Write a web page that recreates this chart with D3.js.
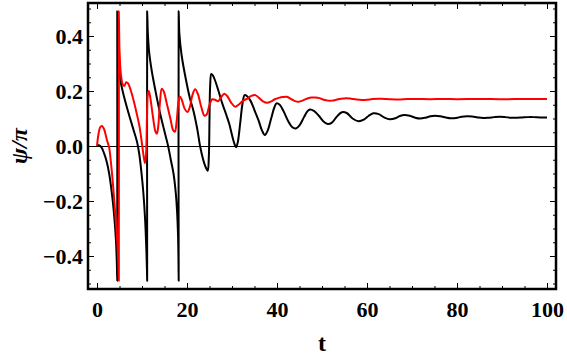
<!DOCTYPE html>
<html>
<head>
<meta charset="utf-8">
<script src="https://cdn.jsdelivr.net/npm/d3@7"></script>
<style>
  html, body { margin: 0; padding: 0; background: #fff; }
  svg { display: block; }
  .tick text { font-family: "Liberation Serif", "Times New Roman", serif; font-weight: bold; font-size: 22px; fill: #000; }
</style>
</head>
<body>
<svg id="chart" width="567" height="358"></svg>
<script>
// ---- data ----
const blackT = [0,0.5,1.0,1.6,2.2,2.7,3.1,3.5,3.9,4.2,4.4,4.5,
  4.5,4.6,4.8,5.3,6.0,7.0,8.0,8.9,9.4,9.9,10.3,10.7,10.95,11.1,11.15,
  11.15,11.3,11.6,12.2,13.0,14.0,15.1,15.8,16.4,17.0,17.5,17.8,18.0,18.1,18.15,
  18.15,18.3,18.8,19.9,20.7,21.4,22.3,22.9,23.6,24.1,24.6,24.85,25.0,25.15,25.4,25.7,26.2,27.0,27.8,28.8,29.4,30.0,30.5,30.9,31.3,31.8,32.3,32.8,33.3,34.1,35.0,35.9,36.7,37.3,37.9,38.7,39.4,39.9,40.6,41.5,42.5,43.4,44.2,45.0,46.0,46.7,47.3,48.2,49.3,50.4,51.3,52.2,53.3,54.4,55.5,56.8,58.1,59.4,60.4,61.4,62.6,63.9,65.1,66.3,67.3,68.3,69.5,70.7,71.8,73.0,74.1,75.1,76.3,77.5,78.6,79.8,81.0,82.2,83.4,84.6,85.8,87.0,88.3,89.5,90.7,92.0,93.3,94.5,95.8,97.0,98.5,100];
const blackV = [0.005,0.002,-0.005,-0.028,-0.06,-0.1,-0.145,-0.2,-0.27,-0.34,-0.42,-0.49,
  0.49,0.37,0.29,0.23,0.18,0.12,0.065,0.015,-0.03,-0.1,-0.17,-0.27,-0.37,-0.45,-0.49,
  0.49,0.41,0.34,0.27,0.2,0.12,0.046,0.0,-0.05,-0.1,-0.17,-0.24,-0.32,-0.41,-0.49,
  0.49,0.41,0.33,0.23,0.17,0.13,0.06,0.0,-0.05,-0.075,-0.09,-0.04,0.1,0.22,0.262,0.258,0.24,0.2,0.157,0.11,0.08,0.04,0.01,-0.005,0.015,0.08,0.15,0.185,0.182,0.165,0.13,0.093,0.055,0.04,0.055,0.1,0.14,0.155,0.15,0.125,0.09,0.068,0.064,0.075,0.105,0.125,0.133,0.128,0.11,0.088,0.08,0.085,0.107,0.123,0.12,0.1,0.09,0.097,0.11,0.119,0.116,0.103,0.097,0.101,0.109,0.113,0.11,0.103,0.1,0.103,0.108,0.11,0.108,0.104,0.101,0.102,0.106,0.108,0.107,0.104,0.102,0.103,0.105,0.106,0.105,0.103,0.103,0.104,0.105,0.105,0.104,0.104];

const redT = [0,0.3,0.7,1.1,1.6,2.2,2.7,3.0,3.5,4.0,4.4,4.7,4.85,
  4.85,5.0,5.3,5.7,6.05,6.5,6.9,7.9,8.8,9.4,9.9,10.3,10.65,10.9,11.1,11.3,11.5,11.8,12.4,13.0,13.3,13.6,14.0,14.4,14.8,15.5,16.3,16.9,17.3,17.7,18.1,18.4,18.8,19.5,20.1,20.6,21.2,21.8,22.4,23.2,23.9,24.4,25.0,25.6,26.2,26.9,27.6,28.3,29.0,29.8,30.7,31.6,32.5,33.4,34.3,35.2,36.0,36.9,37.8,38.7,39.5,40.4,41.3,42.2,43.2,44.0,44.8,45.7,46.6,47.6,48.5,49.4,50.4,51.3,52.2,53.2,54.2,55.4,56.5,57.6,58.8,60.0,61.2,62.5,63.8,65,67,69,71,74,77,80,85,90,95,100];
const redV = [0,0.04,0.068,0.073,0.06,0.022,-0.005,-0.045,-0.13,-0.235,-0.32,-0.41,-0.49,
  0.49,0.35,0.262,0.225,0.218,0.232,0.228,0.18,0.12,0.075,0.02,-0.03,-0.063,-0.03,0.1,0.19,0.2,0.18,0.11,0.052,0.045,0.07,0.16,0.208,0.2,0.155,0.1,0.058,0.052,0.09,0.16,0.18,0.17,0.135,0.124,0.14,0.185,0.206,0.19,0.14,0.11,0.115,0.15,0.17,0.168,0.163,0.178,0.19,0.18,0.158,0.143,0.152,0.165,0.172,0.182,0.185,0.175,0.162,0.157,0.162,0.17,0.175,0.178,0.179,0.17,0.163,0.161,0.165,0.172,0.176,0.176,0.174,0.168,0.165,0.165,0.168,0.172,0.174,0.172,0.169,0.167,0.168,0.171,0.172,0.171,0.170,0.169,0.171,0.171,0.170,0.171,0.170,0.171,0.170,0.171,0.171];

const xMajorTicks = [0,20,40,60,80,100];
const xMinorTicks = [0,5,10,15,20,25,30,35,40,45,50,55,60,65,70,75,80,85,90,95,100];
const yMajorTicks = [-0.4,-0.2,0.0,0.2,0.4];
const yMinorTicks = [-0.5,-0.45,-0.4,-0.35,-0.3,-0.25,-0.2,-0.15,-0.1,-0.05,0,0.05,0.1,0.15,0.2,0.25,0.3,0.35,0.4,0.45,0.5];
const xTitle = "t";
const yTitle = "ψ/π";

// ---- layout ----
const svg = d3.select("#chart");
const L = 88, R = 556, T = 3, B = 289;
const x = d3.scaleLinear().domain([-2, 102]).range([L, R]);
const y = d3.scaleLinear().domain([-0.52, 0.52]).range([B, T]);

svg.append("defs").append("clipPath").attr("id", "clip")
  .append("rect").attr("x", L).attr("y", T).attr("width", R - L).attr("height", B - T);

// zero line (crisp)
svg.append("line")
  .attr("x1", L).attr("x2", R).attr("y1", y(0) + 0.5).attr("y2", y(0) + 0.5)
  .attr("stroke", "#000").attr("stroke-width", 1);

const line = d3.line().x(d => x(d[0])).y(d => y(d[1])).curve(d3.curveCatmullRom.alpha(0.5));
const blackData = blackT.map((t, i) => [t, blackV[i]]);
const redData = redT.map((t, i) => [t, redV[i]]);

const g = svg.append("g").attr("clip-path", "url(#clip)");
g.append("path").datum(blackData).attr("d", line)
  .attr("fill", "none").attr("stroke", "#000").attr("stroke-width", 2).attr("stroke-linejoin", "round");
g.append("path").datum(redData).attr("d", line)
  .attr("fill", "none").attr("stroke", "#ff0000").attr("stroke-width", 2).attr("stroke-linejoin", "round");

// axes (inward ticks)
const fmtY = d3.format(".1f");
function styleAxis(sel) { sel.select(".domain").remove(); sel.selectAll(".tick line").attr("stroke", "#000").attr("stroke-width", 1); }

svg.append("g").attr("transform", `translate(0,${B})`)
  .call(d3.axisBottom(x).tickValues(xMinorTicks).tickSize(-3).tickFormat("")).call(styleAxis);
svg.append("g").attr("transform", `translate(0,${B})`)
  .call(d3.axisBottom(x).tickValues(xMajorTicks).tickSize(-6).tickPadding(12).tickFormat(d3.format("d"))).call(styleAxis);
svg.append("g").attr("transform", `translate(0,${T})`)
  .call(d3.axisTop(x).tickValues(xMinorTicks).tickSize(-3).tickFormat("")).call(styleAxis);
svg.append("g").attr("transform", `translate(0,${T})`)
  .call(d3.axisTop(x).tickValues(xMajorTicks).tickSize(-6).tickFormat("")).call(styleAxis);

svg.append("g").attr("transform", `translate(${L},0)`)
  .call(d3.axisLeft(y).tickValues(yMinorTicks).tickSize(-3).tickFormat("")).call(styleAxis);
svg.append("g").attr("transform", `translate(${L},0)`)
  .call(d3.axisLeft(y).tickValues(yMajorTicks).tickSize(-6).tickPadding(5).tickFormat(fmtY)).call(styleAxis);
svg.append("g").attr("transform", `translate(${R},0)`)
  .call(d3.axisRight(y).tickValues(yMinorTicks).tickSize(-3).tickFormat("")).call(styleAxis);
svg.append("g").attr("transform", `translate(${R},0)`)
  .call(d3.axisRight(y).tickValues(yMajorTicks).tickSize(-6).tickFormat("")).call(styleAxis);

// frame
svg.append("rect").attr("x", L).attr("y", T).attr("width", R - L).attr("height", B - T)
  .attr("fill", "none").attr("stroke", "#000").attr("stroke-width", 2.5);

// titles
svg.append("text").attr("x", x(50)).attr("y", 351).attr("text-anchor", "middle")
  .attr("font-family", "Liberation Serif, serif").attr("font-weight", "bold").attr("font-size", 24)
  .text(xTitle);
svg.append("text").attr("transform", `translate(27,${y(0)}) rotate(-90)`).attr("text-anchor", "middle")
  .attr("font-family", "Liberation Serif, serif").attr("font-weight", "bold").attr("font-style", "italic").attr("font-size", 24)
  .text(yTitle);
</script>
</body>
</html>
